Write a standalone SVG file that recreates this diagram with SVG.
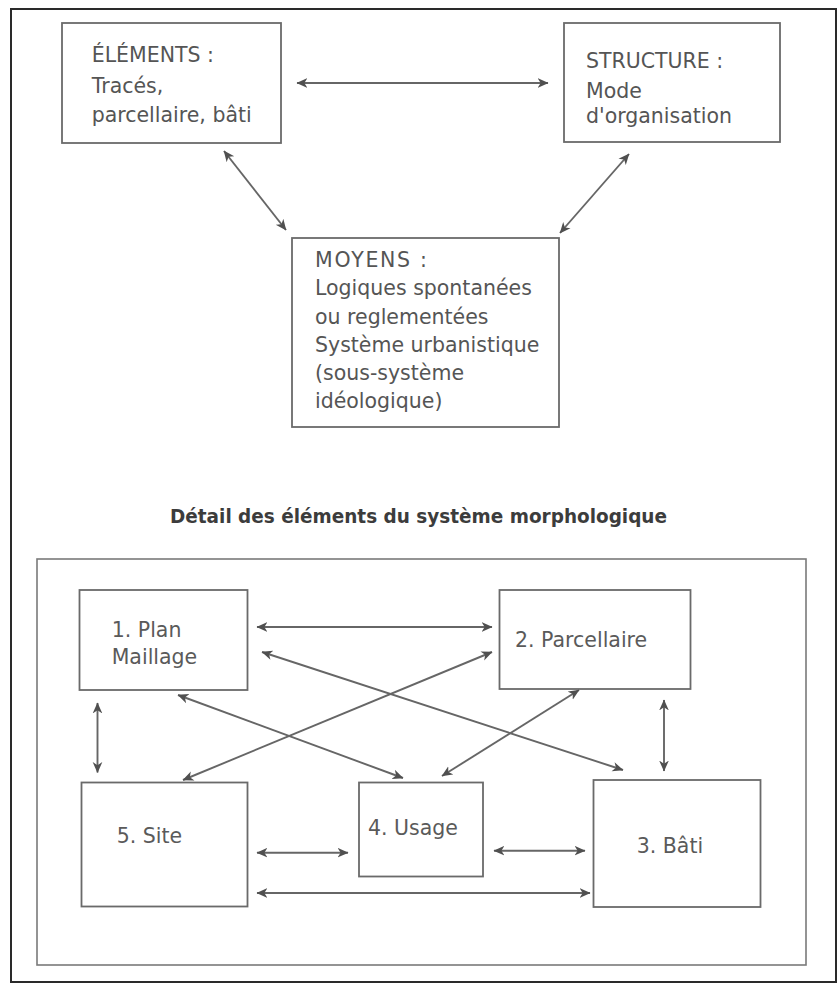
<svg xmlns="http://www.w3.org/2000/svg" width="837" height="983" viewBox="0 0 837 983">
<defs>
<style>
.bg{fill:#ffffff}
.frame{fill:none;stroke:#2a2a2a;stroke-width:2}
.inner{fill:none;stroke:#7a7a7a;stroke-width:1.6}
.box{fill:#ffffff;stroke:#6a6a6a;stroke-width:1.8}
.t{font-family:"DejaVu Sans",Verdana,sans-serif;font-size:20.5px;fill:#555555}
.lbl{font-family:"DejaVu Sans",Verdana,sans-serif;font-size:20.5px;fill:#5a5a5a}
.title{font-family:"DejaVu Sans",Verdana,sans-serif;font-weight:bold;font-size:20px;fill:#3c3c3c}
.c{fill:none;stroke:#666666;stroke-width:1.9;marker-start:url(#ah);marker-end:url(#ah)}
</style>
<marker id="ah" viewBox="0 0 10 10" refX="9.5" refY="5" markerWidth="11" markerHeight="11" markerUnits="userSpaceOnUse" orient="auto-start-reverse">
<path d="M0,0.6 L10,5 L0,9.4 L2.8,5 Z" fill="#505050"/>
</marker>
</defs>
<rect class="bg" x="0" y="0" width="837" height="983"/>
<rect class="frame" x="11" y="9" width="825" height="973"/>

<g id="elements">
<rect class="box" x="62" y="23" width="219" height="120"/>
<text class="t" x="91.7" y="61.5">ÉLÉMENTS :</text>
<text class="t" x="91.7" y="93">Tracés,</text>
<text class="t" x="91.7" y="122">parcellaire, bâti</text>
</g>

<g id="structure">
<rect class="box" x="564" y="23" width="216" height="119"/>
<text class="t" x="586" y="67.5">STRUCTURE :</text>
<text class="t" x="586" y="97.5">Mode</text>
<text class="t" x="586" y="122.5">d'organisation</text>
</g>

<g id="moyens">
<rect class="box" x="292" y="238" width="267" height="189"/>
<text class="t" x="315" y="267" textLength="112">MOYENS :</text>
<text class="t" x="315" y="295">Logiques spontanées</text>
<text class="t" x="315" y="323.5">ou reglementées</text>
<text class="t" x="315" y="351.5">Système urbanistique</text>
<text class="t" x="315" y="380">(sous-système</text>
<text class="t" x="315" y="408">idéologique)</text>
</g>

<text class="title" x="170" y="523" textLength="497" lengthAdjust="spacingAndGlyphs">Détail des éléments du système morphologique</text>

<rect class="inner" x="37" y="559" width="769" height="406"/>

<g id="plan">
<rect class="box" x="79.5" y="590" width="168" height="100"/>
<text class="lbl" x="111.7" y="637">1. Plan</text>
<text class="lbl" x="111.7" y="664">Maillage</text>
</g>

<g id="parcellaire">
<rect class="box" x="499.5" y="590" width="191" height="99"/>
<text class="lbl" x="515" y="646.7">2. Parcellaire</text>
</g>

<g id="site">
<rect class="box" x="81.5" y="782.5" width="166" height="124"/>
<text class="lbl" x="116.7" y="843.3">5. Site</text>
</g>

<g id="usage">
<rect class="box" x="359" y="782.5" width="124" height="94"/>
<text class="lbl" x="368" y="835">4. Usage</text>
</g>

<g id="bati">
<rect class="box" x="593.5" y="780" width="167" height="127"/>
<text class="lbl" x="636.7" y="853.3">3. Bâti</text>
</g>

<g id="connectors">
<line class="c" x1="297" y1="83" x2="548" y2="83"/>
<line class="c" x1="224" y1="151" x2="286" y2="230"/>
<line class="c" x1="629" y1="154" x2="560" y2="233"/>

<line class="c" x1="257" y1="627" x2="492" y2="627"/>
<line class="c" x1="262" y1="652" x2="623" y2="770"/>
<line class="c" x1="492" y1="652" x2="183" y2="780"/>
<line class="c" x1="178" y1="695" x2="403" y2="778"/>
<line class="c" x1="579" y1="690" x2="442" y2="776"/>
<line class="c" x1="97.5" y1="703" x2="97.5" y2="772.5"/>
<line class="c" x1="664" y1="700" x2="664" y2="771"/>
<line class="c" x1="257" y1="852.7" x2="348" y2="852.7"/>
<line class="c" x1="494" y1="850.7" x2="585" y2="850.7"/>
<line class="c" x1="257" y1="893" x2="590" y2="893"/>
</g>
</svg>
